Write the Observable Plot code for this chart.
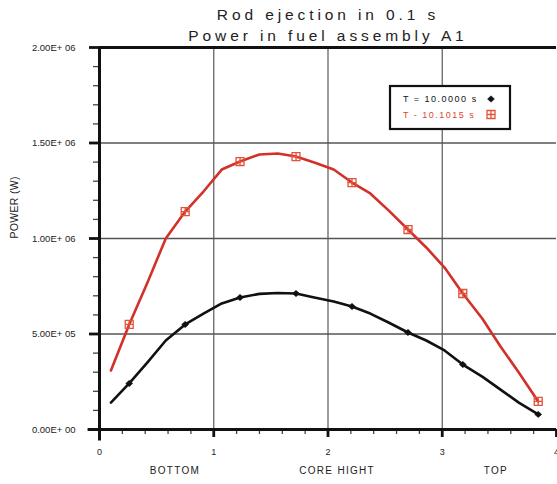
<!DOCTYPE html>
<html><head><meta charset="utf-8">
<script src="https://cdn.jsdelivr.net/npm/d3@7"></script>
<script src="https://cdn.jsdelivr.net/npm/@observablehq/plot@0.6"></script>
<style>
body{margin:0;background:#fff;}
#chart svg{display:block;}
.ttl text{letter-spacing:3.9px;}
.zone text{letter-spacing:1.3px;}
.ylab text{letter-spacing:0.3px;}
</style></head><body><div id="chart"></div>
<script>
const titleLines = ["Rod ejection in 0.1 s", "Power in fuel assembly A1"];
const yAxisLabel = "POWER (W)";
const seriesNames = ["T = 10.0000 s", "T - 10.1015 s"];
const coreHeight = [0.10,0.26,0.42,0.58,0.75,0.91,1.07,1.23,1.40,1.56,1.72,1.88,2.05,2.21,2.37,2.53,2.70,2.86,3.02,3.18,3.35,3.51,3.67,3.84];
const powerT10000 = [141000,241000,351000,466000,550000,607000,660000,691000,710000,715000,712000,691000,670000,644000,607000,560000,508000,466000,414000,340000,277000,209000,141000,79000];
const powerT10115 = [309000,550000,770000,1000000,1141000,1246000,1361000,1403000,1440000,1445000,1429000,1398000,1361000,1293000,1236000,1147000,1047000,953000,848000,712000,581000,435000,298000,147000];
const markerIndex = [1,4,7,10,13,16,19,23];
const yTicks = [0, 500000, 1000000, 1500000, 2000000];
const yTickLabels = ["0.00E+ 00","5.00E+ 05","1.00E+ 06","1.50E+ 06","2.00E+ 06"];
const yMinorTicks = [100000,200000,300000,400000,600000,700000,800000,900000,1100000,1200000,1300000,1400000,1600000,1700000,1800000,1900000];
const xTicks = [0,1,2,3,4];
const xTickLabels = ["0","1","2","3","4"];
const xMinorTicks = [0.2,0.4,0.6,0.8,1.2,1.4,1.6,1.8,2.2,2.4,2.6,2.8,3.2,3.4,3.6,3.8];
const zoneLabels = ["BOTTOM","CORE HIGHT","TOP"];
const zoneX = [0.66, 2.08, 3.47];

const colors = ["#111111", "#d2312a"];
const markerColors = ["#111111", "#e2533c"];

const squareCross = {
  draw(ctx, size) {
    const r = Math.sqrt(size) / 2;
    ctx.moveTo(-r, -r); ctx.lineTo(r, -r); ctx.lineTo(r, r); ctx.lineTo(-r, r); ctx.closePath();
    ctx.moveTo(-r, 0); ctx.lineTo(r, 0);
    ctx.moveTo(0, -r); ctx.lineTo(0, r);
  }
};
const rhombus = {
  draw(ctx, size) {
    const r = Math.sqrt(size) / 2;
    ctx.moveTo(0, -r); ctx.lineTo(r * 1.1, 0); ctx.lineTo(0, r); ctx.lineTo(-r * 1.1, 0); ctx.closePath();
  }
};

const rows = [];
[powerT10000, powerT10115].forEach((vals, s) => {
  vals.forEach((v, i) => rows.push({series: seriesNames[s], s, i, x: coreHeight[i], y: v}));
});
const markers = rows.filter(d => markerIndex.includes(d.i));
const font = "Liberation Sans, Arial, sans-serif";

function legend(index, scales, values, dims) {
  const g = d3.create("svg:g");
  const x0 = 390, y0 = 86, w = 120, h = 43;
  g.append("rect").attr("x", x0).attr("y", y0).attr("width", w).attr("height", h)
    .attr("fill", "white").attr("stroke", "#111").attr("stroke-width", 2.2);
  seriesNames.forEach((name, s) => {
    const yy = y0 + 13 + s * 15.5;
    g.append("text").attr("x", x0 + 13).attr("y", yy).attr("dy", "0.35em")
      .attr("text-anchor", "start")
      .attr("fill", s === 0 ? "#111" : "#e0452f")
      .attr("font-size", 9).attr("letter-spacing", "1.5px").attr("font-family", font)
      .text(name);
    const sym = s === 0 ? d3.symbol(rhombus, 40) : d3.symbol(squareCross, 64);
    g.append("path").attr("transform", `translate(${x0 + 101},${yy})`).attr("d", sym())
      .attr("fill", s === 0 ? "#111" : "none")
      .attr("stroke", markerColors[s]).attr("stroke-width", s === 0 ? 0.5 : 1.3);
  });
  return g.node();
}

const chart = Plot.plot({
  width: 557, height: 484,
  marginLeft: 99, marginRight: 1, marginTop: 47, marginBottom: 55,
  x: {domain: [0, 4]},
  y: {domain: [0, 2000000]},
  style: {fontFamily: font, background: "white", color: "#222"},
  marks: [
    Plot.gridX([1, 2, 3], {stroke: "#666", strokeOpacity: 1, strokeWidth: 1.3}),
    Plot.gridY([500000, 1000000, 1500000], {stroke: "#555", strokeOpacity: 1, strokeWidth: 1.3}),
    Plot.axisY(yMinorTicks, {tickSize: 6, text: null, stroke: "#444", strokeWidth: 1.3, label: null}),
    Plot.axisY(yTicks, {tickSize: 10, tickPadding: 14, strokeWidth: 2.8, stroke: "#111", fontSize: 9.5, fill: "#222",
      tickFormat: d => yTickLabels[yTicks.indexOf(d)], label: null}),
    Plot.axisX(xMinorTicks, {tickSize: 5, text: null, stroke: "#444", strokeWidth: 1.3, label: null}),
    Plot.axisX(xTicks, {tickSize: 8, tickPadding: 11, strokeWidth: 2.8, stroke: "#111", fontSize: 9, fill: "#222",
      tickFormat: d => xTickLabels[xTicks.indexOf(d)], label: null}),
    Plot.ruleY([2000000], {stroke: "#111", strokeWidth: 3}),
    Plot.ruleX([0], {y1: -60000, y2: 2000000, stroke: "#111", strokeWidth: 3}),
    Plot.ruleY([0], {x1: -0.1, x2: 4, stroke: "#111", strokeWidth: 3}),
    Plot.line(rows, {x: "x", y: "y", z: "series", stroke: d => colors[d.s], strokeWidth: 2.6, strokeLinejoin: "round"}),
    Plot.dot(markers.filter(d => d.s === 0), {x: "x", y: "y", symbol: rhombus, r: 3.6, fill: markerColors[0], stroke: markerColors[0], strokeWidth: 0.5}),
    Plot.dot(markers.filter(d => d.s === 1), {x: "x", y: "y", symbol: squareCross, r: 4.5, fill: "none", stroke: markerColors[1], strokeWidth: 1.3}),
    Plot.text(zoneLabels, {x: (d, i) => zoneX[i], text: d => d, frameAnchor: "bottom", dy: 41, lineAnchor: "middle", fontSize: 10, fill: "#222", className: "zone"}),
    Plot.text([yAxisLabel], {text: d => d, frameAnchor: "left", dx: -85, rotate: -90, fontSize: 10.5, fill: "#222", className: "ylab"}),
    Plot.text([titleLines[0]], {text: d => d, frameAnchor: "top", dy: -32, lineAnchor: "middle", fontSize: 15.5, fill: "#222", className: "ttl"}),
    Plot.text([titleLines[1]], {text: d => d, frameAnchor: "top", dy: -11, lineAnchor: "middle", fontSize: 15.5, fill: "#222", className: "ttl"}),
    legend
  ]
});
document.getElementById("chart").append(chart);
</script>
</body></html>
